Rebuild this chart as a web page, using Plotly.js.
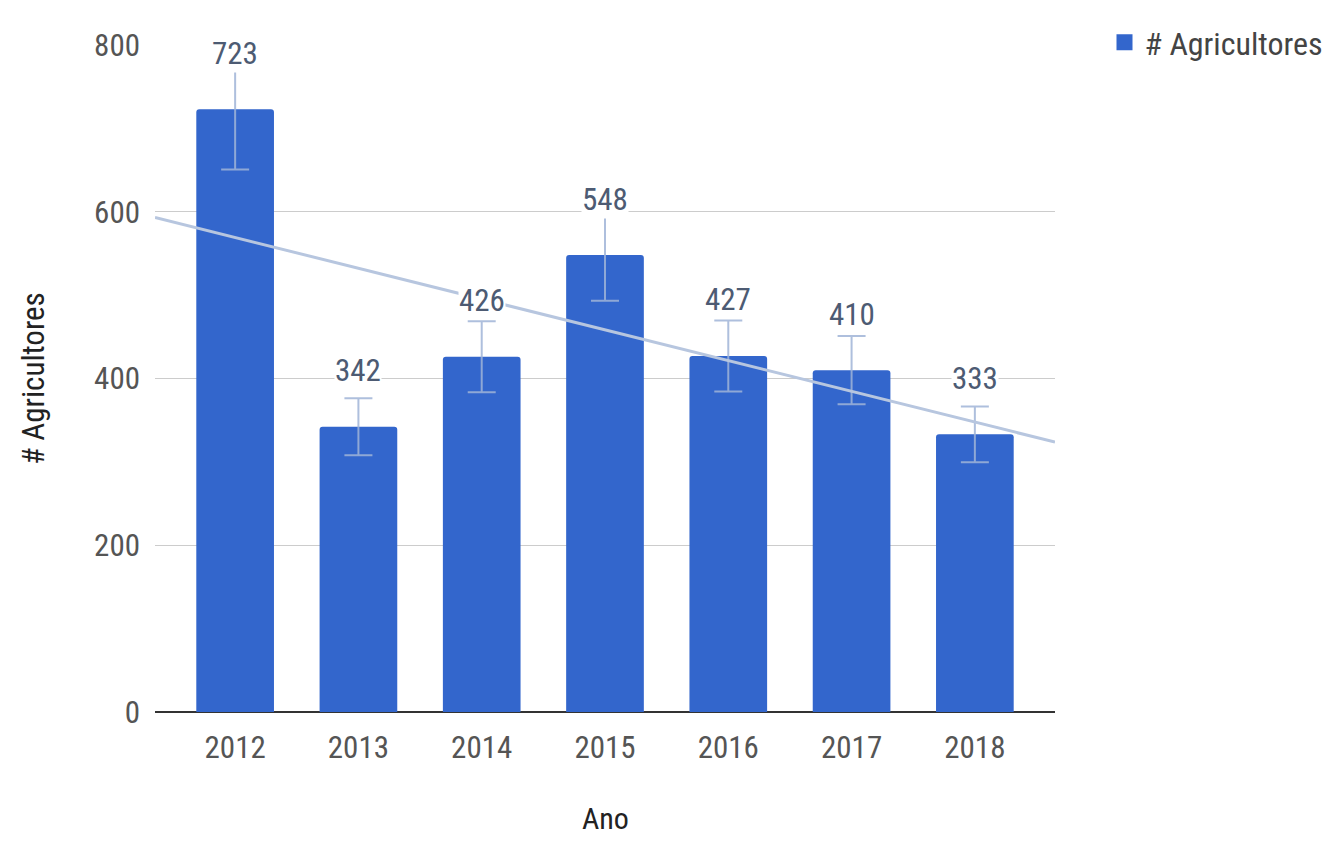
<!DOCTYPE html>
<html>
<head>
<meta charset="utf-8">
<script src="https://cdn.plot.ly/plotly-3.0.1.min.js"></script>
<style>html,body{margin:0;padding:0;background:#fff;}#chart{width:1331px;height:858px;}</style>
</head>
<body>
<div id="chart"></div>
<script>
const years = ['2012', '2013', '2014', '2015', '2016', '2017', '2018'];
const agricultores = [723, 342, 426, 548, 427, 410, 333];
const errorPercent = 10;
const yTicks = [0, 200, 400, 600, 800];

const FONT = '"Roboto Condensed", "Liberation Sans Narrow", "DejaVu Sans Condensed", Roboto, sans-serif';
const xIdx = years.map((_, i) => i);
const xRange = [-0.65, years.length - 1 + 0.65];

// least-squares linear trendline
const n = agricultores.length;
const mx = xIdx.reduce((a, b) => a + b, 0) / n;
const my = agricultores.reduce((a, b) => a + b, 0) / n;
let sxy = 0, sxx = 0;
for (let i = 0; i < n; i++) { sxy += (xIdx[i] - mx) * (agricultores[i] - my); sxx += (xIdx[i] - mx) ** 2; }
const slope = sxy / sxx, intercept = my - slope * mx;

const bars = {
  type: 'bar', x: xIdx, y: agricultores, name: '# Agricultores', width: 0.63,
  marker: { color: '#3366cc', cornerradius: 3 }, showlegend: false,
  error_y: { type: 'percent', value: errorPercent, color: 'rgba(160,180,215,0.85)', thickness: 2, width: 14 },
  hoverinfo: 'y'
};
const trend = {
  type: 'scatter', mode: 'lines', x: xRange, y: xRange.map(x => intercept + slope * x),
  line: { color: '#b7c6df', width: 3 }, showlegend: false, hoverinfo: 'skip'
};
const legendKey = {
  type: 'scatter', mode: 'markers', x: [null], y: [null], name: '# Agricultores',
  marker: { symbol: 'square', size: 24, color: '#3366cc' }, showlegend: true
};

const annotations = agricultores.map((v, i) => ({
  x: i, y: v, text: String(v), showarrow: false, yanchor: 'middle', yshift: 56,
  font: { family: FONT, size: 31, color: '#4d5b73' }, bgcolor: '#ffffff', borderpad: 0
}));
annotations.push({
  xref: 'paper', yref: 'paper', x: 0.5, y: 0, yshift: -126, showarrow: false,
  text: 'Ano', font: { family: FONT, size: 30, color: '#222' }
});

const layout = {
  width: 1331, height: 858,
  margin: { l: 155, r: 276, t: 45, b: 146, autoexpand: false },
  paper_bgcolor: '#fff', plot_bgcolor: '#fff',
  font: { family: FONT, color: '#444' },
  showlegend: true,
  legend: { x: 1.055, y: 1.045, xanchor: 'left', yanchor: 'top', font: { family: FONT, size: 32, color: '#444' }, itemwidth: 30 },
  xaxis: {
    type: 'linear', range: xRange, tickvals: xIdx, ticktext: years, showgrid: false, zeroline: false,
    ticks: '', tickfont: { family: FONT, size: 31, color: '#555' }, showline: false, fixedrange: true,
    ticklabelstandoff: 14
  },
  yaxis: {
    range: [0, 800], tickvals: yTicks, ticktext: yTicks.map(String), showgrid: true, gridcolor: '#cccccc', gridwidth: 1,
    zeroline: true, zerolinecolor: '#333', zerolinewidth: 2, ticks: '',
    tickfont: { family: FONT, size: 31, color: '#555' }, ticklabelstandoff: 14,
    title: { text: '# Agricultores', font: { family: FONT, size: 31, color: '#222' }, standoff: 40 }
  },
  annotations: annotations
};

Plotly.newPlot('chart', [bars, trend, legendKey], layout, { displayModeBar: false, staticPlot: true });
</script>
</body>
</html>
